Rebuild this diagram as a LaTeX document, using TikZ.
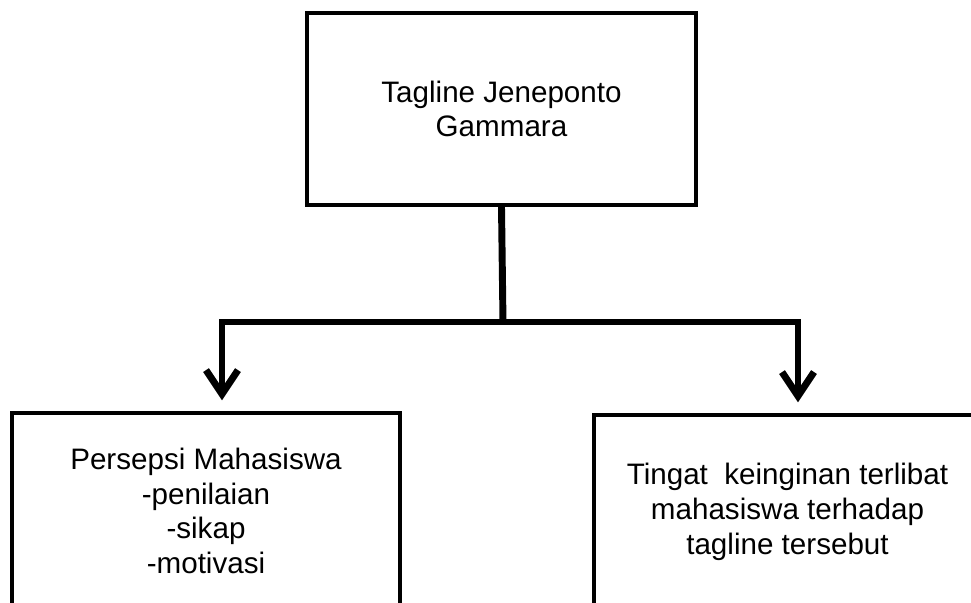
\documentclass[tikz,border=0pt]{standalone}
\usepackage{fontspec}
\setmainfont{Liberation Sans}
\usetikzlibrary{arrows.meta}
\begin{document}
\begin{tikzpicture}[x=0.75pt,y=-0.75pt,
  box/.style={draw, line width=3pt, rectangle, align=center,
    font=\fontsize{22.2}{26}\selectfont, inner sep=0pt},
  conn/.style={line width=5.2pt, line join=miter},
  tipv/.tip={Straight Barb[length=18pt,width=24pt]},
  arr/.style={conn, tipv-tipv, shorten <=8pt, shorten >=8pt}
]
\useasboundingbox (0,0) rectangle (971,603);
\clip (0,0) rectangle (971,603);
\node[box, minimum width=291.75pt, minimum height=144pt] (top) at (501.5,109)
  {Tagline Jeneponto\\Gammara};
\node[box, minimum width=291pt, minimum height=147pt] (left) at (206,511)
  {Persepsi Mahasiswa\\-penilaian\\-sikap\\-motivasi};
\node[box, minimum width=290.25pt, minimum height=145.5pt] (right) at (787.5,512)
  {Tingat~ keinginan terlibat\\mahasiswa terhadap\\tagline tersebut};
\coordinate (j) at (503,322);
\coordinate (jl) at (222,322);
\coordinate (jr) at (798,322);
\draw[conn] (top.south) -- (j);
\draw[arr] (jl |- left.north) -- (jl) -- (jr) -- (jr |- right.north);
\end{tikzpicture}
\end{document}
